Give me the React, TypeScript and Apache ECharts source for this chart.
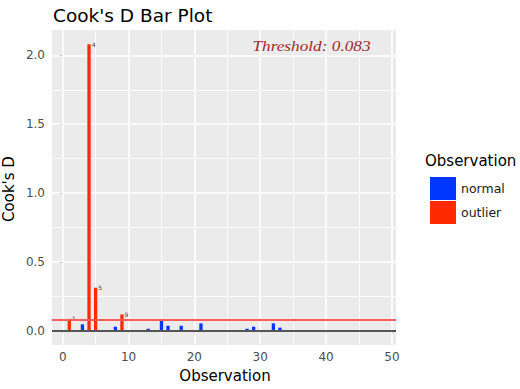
import React, { useEffect, useRef } from "react";
import * as echarts from "echarts";

// Cook's distance for each observation of the fitted model
const observations = [
  1, 2, 3, 4, 5, 6, 7, 8, 9, 10, 11, 12, 13, 14, 15, 16, 17, 18, 19, 20, 21, 22, 23, 24,
  25, 26, 27, 28, 29, 30, 31, 32, 33, 34, 35, 36, 37, 38, 39, 40, 41, 42, 43, 44, 45, 46, 47, 48,
];
const cooksD = [
  0.086, 0.002, 0.046, 2.08, 0.312, 0.005, 0.004, 0.029, 0.118, 0.002, 0.005, 0.001,
  0.014, 0.005, 0.075, 0.036, 0.002, 0.036, 0.005, 0.001, 0.053, 0.005, 0.001, 0.005,
  0.001, 0.004, 0.005, 0.014, 0.029, 0.002, 0.001, 0.053, 0.022, 0.005, 0.001, 0.002,
  0.001, 0.002, 0.001, 0.002, 0.005, 0.001, 0.002, 0.003, 0.005, 0.002, 0.001, 0.002,
];
const threshold = 0.083;

const xTicks = [0, 10, 20, 30, 40, 50];
const xMinor = [5, 15, 25, 35, 45];
const yTicks = [0, 0.5, 1, 1.5, 2];
const yMinor = [0.25, 0.75, 1.25, 1.75];
const legendNames = ["normal", "outlier"];

const FONT = "DejaVu Sans";
const BLUE = "#0036ff";
const RED = "#ff2a00";

export default function App() {
  const ref = useRef<HTMLDivElement>(null);

  useEffect(() => {
    if (!ref.current) return;
    const chart = echarts.init(ref.current, undefined, { renderer: "svg" });

    const normal: number[][] = [];
    const outlier: number[][] = [];
    observations.forEach((obs, i) => {
      if (cooksD[i] > threshold) outlier.push([obs, cooksD[i]]);
      else normal.push([obs, cooksD[i]]);
    });

    const major = { color: "#ffffff", width: 1.6, type: "solid" as const };
    const minor = { color: "#ffffff", width: 0.8, type: "solid" as const };
    const gridLines = [
      ...xMinor.map((v) => ({ xAxis: v, lineStyle: minor })),
      ...yMinor.map((v) => ({ yAxis: v, lineStyle: minor })),
      ...xTicks.map((v) => ({ xAxis: v, lineStyle: major })),
      ...yTicks.map((v) => ({ yAxis: v, lineStyle: major })),
    ];

    chart.setOption({
      animation: false,
      grid: {
        left: 52,
        right: 124,
        top: 30,
        bottom: 44,
        show: true,
        backgroundColor: "#ebebeb",
        borderWidth: 0,
      },
      xAxis: {
        type: "value",
        min: -1.625,
        max: 50.625,
        axisLine: { show: false },
        splitLine: { show: false },
        axisTick: { show: true, customValues: xTicks, length: 3, lineStyle: { color: "#333333" } },
        axisLabel: {
          customValues: xTicks,
          color: "#4d4d4d",
          fontSize: 12,
          fontFamily: FONT,
          margin: 6,
        },
      },
      yAxis: {
        type: "value",
        min: -0.104,
        max: 2.184,
        axisLine: { show: false },
        splitLine: { show: false },
        axisTick: { show: true, customValues: yTicks, length: 3, lineStyle: { color: "#333333" } },
        axisLabel: {
          customValues: yTicks,
          color: "#4d4d4d",
          fontSize: 12,
          fontFamily: FONT,
          margin: 7,
          formatter: (v: number) => v.toFixed(1),
        },
      },
      legend: {
        data: legendNames,
        orient: "vertical",
        left: 425,
        top: 172,
        itemWidth: 26,
        itemHeight: 23,
        itemGap: 1,
        icon: "rect",
        selectedMode: false,
        textStyle: { fontFamily: FONT, fontSize: 12.5, color: "#1a1a1a" },
      },
      series: [
        {
          name: "grid",
          type: "line",
          data: [],
          silent: true,
          markLine: {
            z: 1,
            silent: true,
            symbol: "none",
            label: { show: false },
            data: gridLines,
          },
        },
        {
          name: legendNames[0],
          type: "bar",
          z: 2,
          barWidth: 3.3,
          barGap: "-100%",
          itemStyle: { color: BLUE },
          data: normal,
        },
        {
          name: legendNames[1],
          type: "bar",
          z: 2,
          barWidth: 3.3,
          barGap: "-100%",
          itemStyle: { color: RED },
          data: outlier,
          label: {
            show: true,
            position: ["100%", 0],
            offset: [1, 0],
            align: "left",
            verticalAlign: "middle",
            fontFamily: FONT,
            fontSize: 6,
            color: "#444444",
            formatter: (p: any) => String(p.value[0]),
          },
        },
        {
          name: "reference",
          type: "line",
          data: [],
          silent: true,
          markLine: {
            z: 5,
            silent: true,
            symbol: "none",
            label: { show: false },
            data: [
              { yAxis: 0, lineStyle: { color: "#555555", width: 2, type: "solid" } },
              { yAxis: threshold, lineStyle: { color: "#ff5c5c", width: 2, type: "solid" } },
            ],
          },
        },
      ],
      graphic: [
        {
          type: "text",
          x: 53,
          y: 15,
          style: {
            text: "Cook's D Bar Plot",
            fontFamily: FONT,
            fontSize: 18.5,
            fill: "#000000",
            verticalAlign: "middle",
          },
        },
        {
          type: "text",
          x: 9,
          y: 189,
          rotation: Math.PI / 2,
          style: {
            text: "Cook's D",
            fontFamily: FONT,
            fontSize: 15,
            fill: "#000000",
            align: "center",
            verticalAlign: "middle",
          },
        },
        {
          type: "text",
          x: 225,
          y: 376,
          style: {
            text: "Observation",
            fontFamily: FONT,
            fontSize: 15,
            fill: "#000000",
            align: "center",
            verticalAlign: "middle",
          },
        },
        {
          type: "text",
          x: 425,
          y: 161,
          style: {
            text: "Observation",
            fontFamily: FONT,
            fontSize: 15,
            fill: "#000000",
            verticalAlign: "middle",
          },
        },
        {
          type: "text",
          x: 311.5,
          y: 46,
          scaleX: 1.15,
          z: 10,
          style: {
            text: "Threshold: " + threshold.toFixed(3),
            font: 'italic 15px "Liberation Serif"',
            fill: "#9e2a2b",
            align: "center",
            verticalAlign: "middle",
          },
        },
      ],
    });

    return () => chart.dispose();
  }, []);

  return (
    <div
      ref={ref}
      style={{ position: "fixed", left: 0, top: 0, width: 520, height: 389, background: "#ffffff" }}
    />
  );
}
